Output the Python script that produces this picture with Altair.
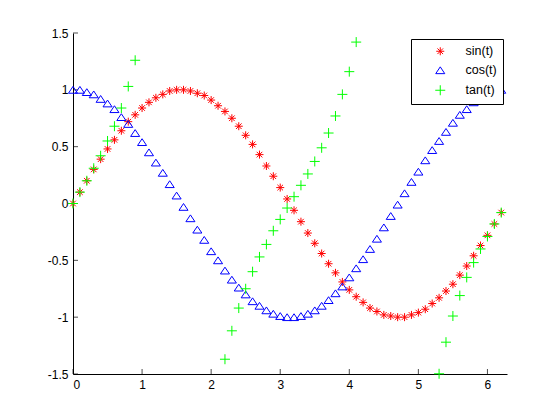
import altair as alt
import pandas as pd

# ---- data ----
t_vals = [0.0, 0.1, 0.2, 0.3, 0.4, 0.5, 0.6, 0.7, 0.8, 0.9,
          1.0, 1.1, 1.2, 1.3, 1.4, 1.5, 1.6, 1.7, 1.8, 1.9,
          2.0, 2.1, 2.2, 2.3, 2.4, 2.5, 2.6, 2.7, 2.8, 2.9,
          3.0, 3.1, 3.2, 3.3, 3.4, 3.5, 3.6, 3.7, 3.8, 3.9,
          4.0, 4.1, 4.2, 4.3, 4.4, 4.5, 4.6, 4.7, 4.8, 4.9,
          5.0, 5.1, 5.2, 5.3, 5.4, 5.5, 5.6, 5.7, 5.8, 5.9,
          6.0, 6.1, 6.2]
sin_vals = [0.00, 0.10, 0.20, 0.30, 0.39, 0.48, 0.56, 0.64, 0.72, 0.78,
            0.84, 0.89, 0.93, 0.96, 0.99, 1.00, 1.00, 0.99, 0.97, 0.95,
            0.91, 0.86, 0.81, 0.75, 0.68, 0.60, 0.52, 0.43, 0.33, 0.24,
            0.14, 0.04, -0.06, -0.16, -0.26, -0.35, -0.44, -0.53, -0.61, -0.69,
            -0.76, -0.82, -0.87, -0.92, -0.95, -0.98, -0.99, -1.00, -1.00, -0.98,
            -0.96, -0.93, -0.88, -0.83, -0.77, -0.71, -0.63, -0.55, -0.46, -0.37,
            -0.28, -0.18, -0.08]
cos_vals = [1.00, 1.00, 0.98, 0.96, 0.92, 0.88, 0.83, 0.76, 0.70, 0.62,
            0.54, 0.45, 0.36, 0.27, 0.17, 0.07, -0.03, -0.13, -0.23, -0.32,
            -0.42, -0.50, -0.59, -0.67, -0.74, -0.80, -0.86, -0.90, -0.94, -0.97,
            -0.99, -1.00, -1.00, -0.99, -0.97, -0.94, -0.90, -0.85, -0.79, -0.73,
            -0.65, -0.57, -0.49, -0.40, -0.31, -0.21, -0.11, -0.01, 0.09, 0.19,
            0.28, 0.38, 0.47, 0.55, 0.63, 0.71, 0.78, 0.83, 0.89, 0.93,
            0.96, 0.98, 1.00]
tan_t = [0.0, 0.1, 0.2, 0.3, 0.4, 0.5, 0.6, 0.7, 0.8, 0.9,
         2.2, 2.3, 2.4, 2.5, 2.6, 2.7, 2.8, 2.9, 3.0, 3.1,
         3.2, 3.3, 3.4, 3.5, 3.6, 3.7, 3.8, 3.9, 4.0, 4.1,
         5.3, 5.4, 5.5, 5.6, 5.7, 5.8, 5.9, 6.0, 6.1, 6.2]
tan_vals = [0.00, 0.10, 0.20, 0.31, 0.42, 0.55, 0.68, 0.84, 1.03, 1.26,
            -1.37, -1.12, -0.92, -0.75, -0.60, -0.47, -0.36, -0.24, -0.14, -0.04,
            0.06, 0.16, 0.26, 0.37, 0.49, 0.62, 0.77, 0.96, 1.16, 1.42,
            -1.498, -1.22, -0.99, -0.81, -0.65, -0.52, -0.40, -0.29, -0.18, -0.08]

series_names = ["sin(t)", "cos(t)", "tan(t)"]
series_colors = ["#ff0000", "#0000ff", "#00ff00"]
x_ticks = [0, 1, 2, 3, 4, 5, 6]
y_ticks = [-1.5, -1, -0.5, 0, 0.5, 1, 1.5]

rows = []
for tt, v in zip(t_vals, sin_vals):
    rows.append({"t": tt, "v": v, "series": "sin(t)", "o": 0})
for tt, v in zip(t_vals, cos_vals):
    rows.append({"t": tt, "v": v, "series": "cos(t)", "o": 1})
for tt, v in zip(tan_t, tan_vals):
    rows.append({"t": tt, "v": v, "series": "tan(t)", "o": 2})
df = pd.DataFrame(rows)

ASTERISK = "M-1,0L1,0M0,-1L0,1M-0.7,-0.7L0.7,0.7M-0.7,0.7L0.7,-0.7"
TRIANGLE = "M0,-0.75L1,0.75L-1,0.75Z"
PLUS = "M-1,0L1,0M0,-1L0,1"

FONT = "Liberation Sans"

xscale = alt.Scale(domain=[0, 6.2832], nice=False, zero=False)
yscale = alt.Scale(domain=[-1.5, 1.5], nice=False, zero=False)

xaxis = alt.Axis(values=x_ticks, title=None, grid=False, ticks=False, tickSize=0,
                 labelPadding=5, labelFont=FONT, labelFontSize=12, labelColor="black",
                 domainColor="black", labelExpr="'' + datum.value")
yaxis = alt.Axis(values=y_ticks, title=None, grid=False, ticks=False, tickSize=0,
                 labelPadding=5, labelFont=FONT, labelFontSize=12, labelColor="black",
                 domainColor="black", labelExpr="'' + datum.value")

legend = alt.Legend(title=None, orient="none", legendX=338, legendY=6,
                    direction="vertical", strokeColor="black", fillColor="white",
                    padding=6, rowPadding=6, symbolOffset=17, labelOffset=19,
                    labelFont=FONT, labelFontSize=12.5, labelColor="black",
                    symbolStrokeWidth=1, cornerRadius=0, zindex=1)

points = alt.Chart(df).mark_point(filled=False, strokeWidth=1, opacity=1).encode(
    x=alt.X("t:Q", scale=xscale, axis=xaxis),
    y=alt.Y("v:Q", scale=yscale, axis=yaxis),
    color=alt.Color("series:N", scale=alt.Scale(domain=series_names, range=series_colors),
                    legend=legend),
    shape=alt.Shape("series:N", scale=alt.Scale(domain=series_names,
                                                range=[ASTERISK, TRIANGLE, PLUS]),
                    legend=legend),
    size=alt.Size("series:N", scale=alt.Scale(domain=series_names, range=[64, 100, 90]),
                  legend=legend),
    order=alt.Order("o:Q"),
)

xt = alt.Chart(pd.DataFrame({"tick": x_ticks})).mark_tick(
    orient="vertical", size=5, thickness=1, color="black", yOffset=-2.5
).encode(x=alt.X("tick:Q", scale=xscale), y=alt.datum(-1.5))

yt = alt.Chart(pd.DataFrame({"tick": y_ticks})).mark_tick(
    orient="horizontal", size=5, thickness=1, color="black", xOffset=2.5
).encode(y=alt.Y("tick:Q", scale=yscale), x=alt.datum(0))

chart = alt.layer(xt, yt, points).properties(
    width=434, height=341,
    padding={"left": 73, "top": 33, "right": 53, "bottom": 46},
    autosize="none", background="white",
).configure_view(stroke=None)

chart.save("out.html", embed_options={"renderer": "svg", "actions": False})
